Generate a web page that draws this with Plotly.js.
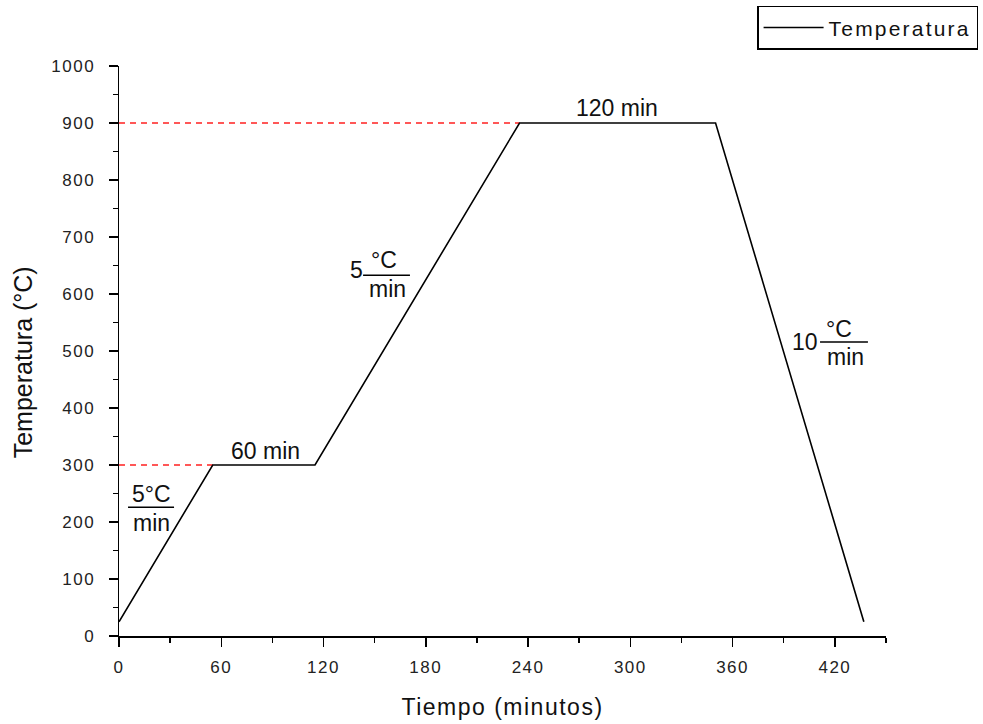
<!DOCTYPE html>
<html>
<head>
<meta charset="utf-8">
<script src="https://cdn.plot.ly/plotly-3.0.1.min.js"></script>
<style>
body{margin:0;padding:0;background:#fff;}
#chart{width:983px;height:724px;}
.xtick text,.ytick text{letter-spacing:1.5px;}
.legendtext{letter-spacing:2.2px;}
.g-xtitle text{letter-spacing:1.5px;}
</style>
</head>
<body>
<div id="chart"></div>
<script>
// Temperature profile
const tiempo = [0, 55, 115, 235, 350, 437];
const temperatura = [25, 300, 300, 900, 900, 25];
// Reference dashed lines
const ref300X = [0, 55];
const ref300Y = [300, 300];
const ref900X = [0, 235];
const ref900Y = [900, 900];
const xTicks = [0, 60, 120, 180, 240, 300, 360, 420];
const yTicks = [0, 100, 200, 300, 400, 500, 600, 700, 800, 900, 1000];

const FONT = 'Arial, "Liberation Sans", sans-serif';

const traces = [
  {x: ref300X, y: ref300Y, mode: 'lines', line: {color: '#ff2020', width: 1.3, dash: '6px,5px'}, showlegend: false, hoverinfo: 'skip'},
  {x: ref900X, y: ref900Y, mode: 'lines', line: {color: '#ff2020', width: 1.3, dash: '6px,5px'}, showlegend: false, hoverinfo: 'skip'},
  {x: tiempo, y: temperatura, mode: 'lines', name: 'Temperatura', line: {color: '#000', width: 1.6}}
];

const annFont = {family: FONT, size: 23, color: '#111'};
function ann(text, x, y) {
  return {text: text, x: x, y: y, xref: 'x', yref: 'y', showarrow: false, font: annFont, xanchor: 'center', yanchor: 'middle'};
}
function bar(x0, x1, y) {
  return {type: 'line', xref: 'x', yref: 'y', x0: x0, x1: x1, y0: y, y1: y, line: {color: '#000', width: 1.5}};
}

const layout = {
  width: 983, height: 724,
  margin: {l: 119, r: 97, t: 66, b: 88, autoexpand: false},
  paper_bgcolor: '#fff', plot_bgcolor: '#fff',
  font: {family: FONT, color: '#111'},
  xaxis: {
    range: [0, 450], tickvals: xTicks, ticktext: xTicks.map(String),
    showgrid: false, zeroline: false, showline: true, linecolor: '#000', linewidth: 1.5,
    ticks: 'outside', ticklen: 9, tickwidth: 1.5, tickcolor: '#000',
    minor: {dtick: 30, tick0: 0, ticks: 'outside', ticklen: 5, tickwidth: 1.5, tickcolor: '#000', showgrid: false},
    tickfont: {family: FONT, size: 17, color: '#222'},
    ticklabelstandoff: 6,
    automargin: false,
    title: {text: 'Tiempo (minutos)', font: {family: FONT, size: 23, color: '#111'}, standoff: 23}
  },
  yaxis: {
    range: [0, 1000], tickvals: yTicks, ticktext: yTicks.map(String),
    showgrid: false, zeroline: false, showline: true, linecolor: '#000', linewidth: 1.5,
    ticks: 'outside', ticklen: 9, tickwidth: 1.5, tickcolor: '#000',
    minor: {dtick: 50, tick0: 0, ticks: 'outside', ticklen: 5, tickwidth: 1.5, tickcolor: '#000', showgrid: false},
    tickfont: {family: FONT, size: 17, color: '#222'},
    ticklabelstandoff: 10,
    automargin: false
  },
  showlegend: true,
  legend: {
    xref: 'container', yref: 'container',
    x: 0.995, y: 0.992, xanchor: 'right', yanchor: 'top',
    bordercolor: '#000', borderwidth: 1.5, bgcolor: '#fff',
    font: {family: FONT, size: 21, color: '#111'},
    itemwidth: 60
  },
  annotations: [
    {text: 'Temperatura (°C)', xref: 'paper', yref: 'paper', x: -0.124, y: 0.48, textangle: -90,
     showarrow: false, xanchor: 'center', yanchor: 'middle', font: {family: FONT, size: 25, color: '#111'}},
    ann('60 min', 85.7, 325),
    ann('120 min', 292, 926),
    ann('5°C', 18.8, 249),
    ann('min', 18.8, 199),
    ann('5', 139.5, 642),
    ann('°C', 155.5, 660),
    ann('min', 157.3, 609),
    ann('10', 402.5, 516),
    ann('°C', 422.4, 539),
    ann('min', 426, 490)
  ],
  shapes: [
    bar(5.3, 32.3, 226),
    bar(143.2, 170.7, 633),
    bar(411.3, 439.4, 516)
  ]
};

Plotly.newPlot('chart', traces, layout, {displayModeBar: false, staticPlot: true});
</script>
</body>
</html>
